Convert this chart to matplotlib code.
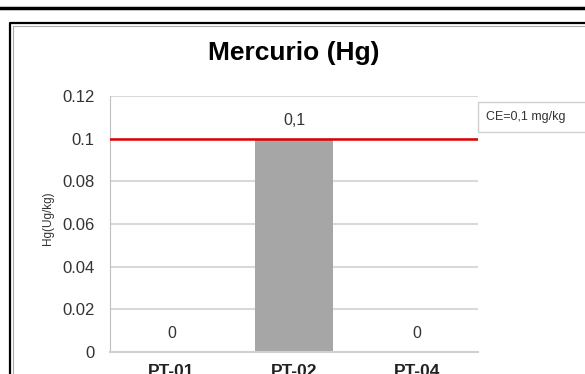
import numpy as np
import matplotlib.pyplot as plt
from matplotlib.lines import Line2D
from matplotlib.patches import Rectangle

# datos
puntos = ['PT-01', 'PT-02', 'PT-04']
valores = [0, 0.1, 0]
etiquetas = ['0', '0,1', '0']
limite = 0.1
texto_limite = 'CE=0,1 mg/kg'
titulo = 'Mercurio (Hg)'
yticks = [0, 0.02, 0.04, 0.06, 0.08, 0.1, 0.12]
ytick_labels = ['0', '0.02', '0.04', '0.06', '0.08', '0.1', '0.12']

plt.rcParams['font.family'] = ['Liberation Sans', 'DejaVu Sans']

fig = plt.figure(figsize=(5.85, 3.74), dpi=100)
ax = fig.add_axes([110/585, 1-352/374, 368/585, 256/374])

x = np.arange(len(puntos))
ax.bar(x, valores, width=0.63, color='#a6a6a6', zorder=2)
ax.axhline(limite, color='#e00000', linewidth=1.8, zorder=3)

# etiquetas de datos
for xi, v, t in zip(x, valores, etiquetas):
    ax.annotate(t, (xi, v), xytext=(0, 18), textcoords='offset pixels',
                ha='center', va='center', fontsize=11.5, color='#333333')

ax.set_xlim(-0.5, len(puntos) - 0.5)
ax.set_ylim(0, 0.12)
ax.set_yticks(yticks)
ax.set_yticklabels(ytick_labels, fontsize=12, color='#333333')
ax.set_xticks(x)
ax.set_xticklabels(puntos, fontsize=12.5, fontweight='bold', color='#222222')
ax.tick_params(length=0)
ax.tick_params(axis='y', pad=11)
ax.tick_params(axis='x', pad=9)
ax.yaxis.grid(True, color='#d9d9d9', linewidth=1.5, zorder=0)
ax.set_axisbelow(True)
for s in ['top', 'right']:
    ax.spines[s].set_visible(False)
ax.spines['left'].set_color('#bfbfbf')
ax.spines['bottom'].set_color('#d0d0d0')
ax.spines['bottom'].set_linewidth(1.5)

fig.text(294/585, 1-60/374, titulo, ha='center', va='baseline',
         fontsize=19, fontweight='bold')
fig.text(48/585, 1-218/374, 'Hg(Ug/kg)', rotation=90, ha='center',
         va='center', fontsize=8.5, color='#333333')

# cuadro del criterio
fig.add_artist(Rectangle((478/585, 1-132/374), 115/585, 30/374,
                         transform=fig.transFigure, fc='white',
                         ec='#d0d0d0', lw=1.0))
fig.text(526/585, 1-117/374, texto_limite, ha='center', va='center',
         fontsize=9, color='#333333')

# marcos del documento
fig.add_artist(Line2D([0, 1], [1-8/374, 1-8/374], color='black', linewidth=2.5))
fig.add_artist(Line2D([10/585, 10/585, 1], [0, 1-23/374, 1-23/374],
                      color='black', linewidth=1.6))
fig.add_artist(Line2D([12.5/585, 12.5/585, 1], [0, 1-25.5/374, 1-25.5/374],
                      color='#aaaaaa', linewidth=0.8))

fig.savefig('out.png', dpi=100)
